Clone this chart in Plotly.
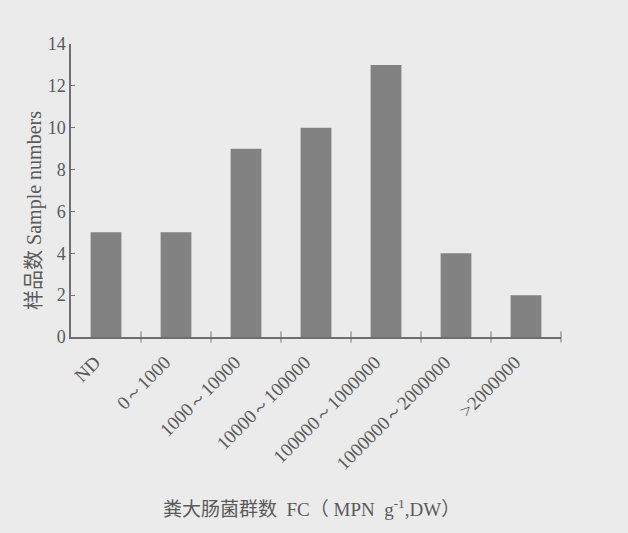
import plotly.graph_objects as go

# Fecal coliform count classes (MPN g-1, dry weight) and number of samples in each
categories = ["ND", "0～1000", "1000～10000", "10000～100000",
              "100000～1000000", "1000000～2000000", ">2000000"]
sample_counts = [5, 5, 9, 10, 13, 4, 2]
y_ticks = [0, 2, 4, 6, 8, 10, 12, 14]

serif = "Liberation Serif, DejaVu Serif, serif"
cjk = "Liberation Serif, Noto Sans CJK SC, serif"
ink = "#5a5a5a"

fig = go.Figure(
    go.Bar(
        x=list(range(len(categories))),
        y=sample_counts,
        width=0.44,
        marker=dict(color="#828282", line=dict(width=0)),
    )
)

fig.update_layout(
    width=628,
    height=533,
    margin=dict(l=71, r=67, t=44, b=196),
    paper_bgcolor="#ebebeb",
    plot_bgcolor="#ebebeb",
    showlegend=False,
    font=dict(family=serif, color=ink),
    bargap=0.56,
)

fig.update_xaxes(
    range=[-0.5, 6.5],
    tickmode="array",
    tickvals=list(range(len(categories))),
    ticktext=categories,
    tickangle=-45,
    tickfont=dict(family=serif, size=19, color=ink),
    ticks="",
    showline=True,
    linecolor="#6e6e6e",
    linewidth=1.5,
    showgrid=False,
    zeroline=False,
    ticklabelstandoff=5,
    ticklabelshift=-11,
)

# small upward ticks at the category boundaries
fig.add_trace(
    go.Scatter(
        x=[i + 0.5 for i in range(len(categories))],
        y=[0] * len(categories),
        mode="markers",
        marker=dict(symbol="line-ns", size=8, line=dict(color="#777", width=1)),
        hoverinfo="skip",
        cliponaxis=False,
    )
)

fig.update_yaxes(
    range=[0, 14],
    tickmode="array",
    tickvals=y_ticks,
    tickfont=dict(family=serif, size=18, color=ink),
    ticks="inside",
    ticklen=4,
    tickcolor="#777",
    showline=True,
    linecolor="#6e6e6e",
    linewidth=1.5,
    showgrid=False,
    zeroline=False,
)

fig.add_annotation(
    text="样品数 Sample numbers",
    xref="paper", yref="y",
    x=0, y=6.05,
    xshift=-50,
    textangle=-90,
    showarrow=False,
    font=dict(family=cjk, size=20, color=ink),
)

fig.add_annotation(
    text="粪大肠菌群数  FC（ MPN  g<sup>-1</sup>,DW）",
    xref="paper", yref="paper",
    x=0.49, y=0,
    yshift=-171,
    yanchor="middle",
    showarrow=False,
    font=dict(family=cjk, size=19, color=ink),
)

fig.write_html("out.html")
